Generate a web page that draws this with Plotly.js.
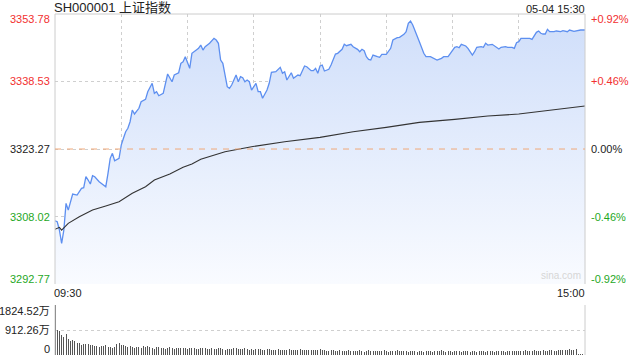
<!DOCTYPE html>
<html>
<head>
<meta charset="utf-8">
<script src="https://cdn.plot.ly/plotly-3.0.1.min.js"></script>
<style>html,body{margin:0;padding:0;background:#fff;}#chart{width:640px;height:360px;}</style>
</head>
<body>
<div id="chart"></div>
<script>
// ---- data ----
const chartTitle = 'SH000001 上证指数';
const stamp = '05-04 15:30';
const timeLabels = ['09:30', '15:00'];

// minute index from 09:30 (0) to 15:00 (240), price
const priceMin = [0,1,2,3,4,5,6,7,8,10,11,12,13,14,15,16,17,18,20,21,23,24,25,26,27,29,30,31,32,33,34,35,36,38,39,41,42,44,45,46,47,49,51,53,54,56,57,58,59,61,62,64,65,66,67,68,70,72,73,74,75,76,77,78,79,80,82,83,84,85,86,87,88,89,91,92,93,94,96,97,98,100,102,103,104,105,107,108,110,111,113,114,116,117,118,119,120,121,122,124,125,127,128,130,131,132,134,135,137,138,139,140,141,142,143,144,146,147,148,149,150,152,153,155,156,158,159,160,161,162,164,165,167,168,170,171,173,175,176,178,179,181,182,183,184,186,187,189,190,191,193,194,195,196,198,199,201,202,204,205,207,208,209,210,211,213,215,216,217,218,219,220,221,222,223,224,226,227,229,230,232,233,235,236,238,240];
const priceVal = [3307.07,3306.84,3304.96,3301.96,3304.96,3311.00,3309.48,3311.36,3313.10,3312.87,3313.62,3314.39,3314.52,3317.01,3316.26,3315.36,3317.24,3317.01,3315.88,3315.52,3314.75,3317.78,3321.17,3322.30,3320.63,3321.17,3324.17,3325.69,3327.18,3327.95,3329.44,3332.08,3331.18,3332.47,3333.96,3334.50,3336.22,3338.12,3335.86,3336.22,3335.32,3335.86,3340.22,3338.48,3339.99,3340.51,3342.64,3343.00,3344.13,3341.51,3344.90,3345.64,3346.03,3346.77,3345.64,3346.39,3347.16,3348.29,3347.90,3347.16,3343.38,3342.64,3339.61,3337.35,3336.99,3337.73,3339.99,3338.48,3339.61,3339.38,3338.48,3338.86,3338.48,3336.60,3338.12,3336.22,3336.22,3334.73,3336.60,3338.12,3340.60,3340.74,3341.73,3340.38,3340.74,3338.86,3340.51,3339.25,3339.99,3339.84,3342.03,3341.87,3340.97,3340.97,3341.51,3340.38,3342.03,3342.25,3340.90,3341.28,3342.25,3344.74,3344.90,3345.80,3346.93,3346.62,3346.93,3346.39,3345.80,3345.26,3345.80,3345.49,3344.13,3343.54,3343.38,3344.51,3344.13,3343.99,3344.67,3344.67,3344.67,3346.03,3347.90,3348.42,3348.51,3349.19,3349.78,3351.68,3352.20,3351.29,3349.03,3347.52,3344.90,3344.13,3344.13,3343.90,3343.38,3343.77,3344.13,3344.13,3344.90,3346.25,3346.39,3346.16,3346.93,3346.55,3346.03,3344.51,3345.26,3346.25,3346.39,3346.25,3347.16,3346.77,3346.93,3346.55,3345.87,3346.25,3346.39,3346.25,3346.25,3346.03,3347.29,3347.52,3348.29,3348.29,3348.29,3348.06,3349.03,3349.64,3349.94,3349.42,3349.26,3349.26,3350.32,3349.78,3349.78,3349.94,3349.78,3350.01,3349.78,3350.16,3349.87,3350.01,3350.16,3350.16];

// average price line
const avgMin = [0,2,3,6,11,17,23,29,35,41,45,52,58,62,66,77,89,104,120,135,150,165,181,196,210,227,240];
const avgVal = [3305.12,3305.57,3304.96,3306.48,3307.97,3309.48,3310.39,3311.36,3313.26,3314.75,3316.26,3317.62,3319.13,3319.88,3320.94,3322.66,3323.79,3324.92,3325.91,3327.18,3328.17,3329.30,3329.98,3330.73,3331.18,3332.24,3332.99];

// volume per minute, in 万
const volume = [
1810,930,860,730,660,770,590,520,540,500,
430,420,380,400,395,385,370,360,330,340,
310,320,330,360,300,290,260,275,390,420,
370,350,340,300,320,310,270,290,300,265,
340,305,320,275,260,235,280,300,255,240,
225,260,290,250,230,245,260,270,250,240,
210,250,240,255,230,230,250,270,250,235,
220,240,230,225,240,260,210,200,215,230,
225,240,250,215,205,230,245,220,200,210,
195,220,235,210,200,190,215,205,195,180,
200,215,190,185,175,200,210,190,180,170,
195,205,185,175,190,180,170,165,185,195,
230,
170,185,160,150,175,165,140,155,170,150,
135,160,175,150,140,130,155,165,140,125,
150,170,145,135,160,150,130,145,165,140,
125,150,140,160,175,145,130,150,140,120,
145,160,135,125,150,140,120,135,155,130,
120,140,130,150,165,140,125,135,145,120,
130,150,140,125,140,155,130,120,145,135,
125,140,150,130,120,135,150,140,125,130,
145,160,135,125,150,140,130,145,160,140,
135,150,165,145,130,155,170,150,140,160,
175,155,145,165,180,160,150,170,185,165,
175,195,210,185,200,225,30,20,25,420];

const priceTicks = [3353.78, 3338.53, 3323.27, 3308.02, 3292.77];
const pctTicks = ['+0.92%', '+0.46%', '0.00%', '-0.46%', '-0.92%'];
const volTicks = [1824.52, 912.26, 0];
const volTickLabels = ['1824.52万', '912.26万', '0'];
const gridMinutes = [30, 60, 90, 120, 150, 180, 210];

// ---- chart ----
const volMinute = volume.map((v, i) => i);
const red = '#f23030', green = '#1fa81f', dark = '#222222';
const tickColor = [red, red, dark, green, green];
const labelShift = [-5, 0, 0, 0, 5];
const font = 'Liberation Sans, Arial, Noto Sans CJK SC, sans-serif';

const traces = [
  {
    x: priceMin, y: priceVal, type: 'scatter', mode: 'lines',
    line: {color: '#5d8ff0', width: 1.3},
    fill: 'tozeroy',
    fillgradient: {type: 'vertical', start: priceTicks[4], stop: priceTicks[0],
      colorscale: [[0, '#f9fbff'], [1, '#cfdefa']]},
    xaxis: 'x', yaxis: 'y', hoverinfo: 'skip'
  },
  {
    x: avgMin, y: avgVal, type: 'scatter', mode: 'lines',
    line: {color: '#333333', width: 1.1},
    xaxis: 'x', yaxis: 'y', hoverinfo: 'skip'
  },
  {
    x: volMinute, y: volume, type: 'bar', width: 0.45,
    marker: {color: '#555555', line: {width: 0}},
    xaxis: 'x2', yaxis: 'y2', hoverinfo: 'skip'
  }
];

const annotations = [];
priceTicks.forEach((v, k) => {
  annotations.push({xref: 'paper', yref: 'y', x: 0, y: v, xanchor: 'right', yanchor: 'middle',
    xshift: -3, yshift: labelShift[k], text: v.toFixed(2), showarrow: false,
    font: {family: font, size: 11, color: tickColor[k]}});
  annotations.push({xref: 'paper', yref: 'y', x: 1, y: v, xanchor: 'left', yanchor: 'middle',
    xshift: 4, yshift: labelShift[k], text: pctTicks[k], showarrow: false,
    font: {family: font, size: 11, color: tickColor[k]}});
});
volTicks.forEach((v, k) => {
  annotations.push({xref: 'paper', yref: 'y2', x: 0, y: v, xanchor: 'right', yanchor: 'middle',
    xshift: -3, yshift: k === 0 ? -6 : (k === 2 ? 6 : 0), text: volTickLabels[k], showarrow: false,
    font: {family: font, size: 11, color: dark}});
});
annotations.push({xref: 'paper', yref: 'paper', x: 0, y: 1, xanchor: 'left', yanchor: 'bottom',
  xshift: -3, yshift: -3, text: chartTitle, showarrow: false, font: {family: font, size: 13, color: dark}});
annotations.push({xref: 'paper', yref: 'paper', x: 1, y: 1, xanchor: 'right', yanchor: 'bottom',
  xshift: 2, yshift: -3, text: stamp, showarrow: false, font: {family: font, size: 11, color: dark}});
annotations.push({xref: 'x', yref: 'y', x: 0, y: priceTicks[4], xanchor: 'left', yanchor: 'top',
  xshift: -3, yshift: -1, text: timeLabels[0], showarrow: false, font: {family: font, size: 11, color: dark}});
annotations.push({xref: 'x', yref: 'y', x: 240, y: priceTicks[4], xanchor: 'right', yanchor: 'top',
  xshift: 2, yshift: -1, text: timeLabels[1], showarrow: false, font: {family: font, size: 11, color: dark}});
annotations.push({xref: 'paper', yref: 'y', x: 1, y: priceTicks[4], xanchor: 'right', yanchor: 'bottom',
  xshift: -2, yshift: 1, text: 'sina.com', showarrow: false, font: {family: font, size: 10, color: '#d6d6d6'}});

const border = '#cccccc';
const shapes = [
  {type: 'line', xref: 'paper', yref: 'y domain', x0: 0, x1: 0, y0: 0, y1: 1, line: {color: border, width: 1}},
  {type: 'line', xref: 'paper', yref: 'y domain', x0: 1, x1: 1, y0: 0, y1: 1, line: {color: border, width: 1}},
  {type: 'line', xref: 'paper', yref: 'y domain', x0: 0, x1: 1, y0: 1, y1: 1, line: {color: border, width: 1}},
  {type: 'line', xref: 'paper', yref: 'y', x0: 0, x1: 1, y0: priceTicks[2], y1: priceTicks[2],
    line: {color: '#f0a878', width: 1, dash: '6px,6px'}},
  {type: 'line', xref: 'paper', yref: 'y2 domain', x0: 0, x1: 0, y0: 0, y1: 1, line: {color: border, width: 1}},
  {type: 'line', xref: 'paper', yref: 'y2 domain', x0: 1, x1: 1, y0: 0, y1: 1, line: {color: border, width: 1}}
];

const layout = {
  width: 640, height: 360,
  margin: {l: 55, r: 55, t: 14, b: 5},
  paper_bgcolor: '#ffffff', plot_bgcolor: 'rgba(0,0,0,0)',
  showlegend: false, bargap: 0,
  font: {family: font, size: 11, color: dark},
  xaxis: {domain: [0, 1], range: [0, 240], tickvals: gridMinutes, showticklabels: false,
    showgrid: true, gridcolor: '#cfcfcf', griddash: 'dot', gridwidth: 1, zeroline: false,
    showline: false, ticks: '', anchor: 'y', fixedrange: true},
  yaxis: {domain: [0.2082, 1], range: [priceTicks[4], priceTicks[0]], tickvals: [priceTicks[1], priceTicks[2], priceTicks[3]],
    showticklabels: false, showgrid: true, gridcolor: '#cfcfcf', griddash: 'dot', gridwidth: 1,
    zeroline: false, showline: false, ticks: '', anchor: 'x', fixedrange: true},
  xaxis2: {domain: [0, 1], range: [0, 240], showticklabels: false, showgrid: false, zeroline: false,
    showline: false, ticks: '', anchor: 'y2', fixedrange: true},
  yaxis2: {domain: [0, 0.1466], range: [0, volTicks[0]], tickvals: [volTicks[0], volTicks[1]],
    showticklabels: false, showgrid: true, gridcolor: '#cfcfcf', griddash: 'dot', gridwidth: 1,
    zeroline: false, showline: false, ticks: '', anchor: 'x2', fixedrange: true},
  annotations: annotations,
  shapes: shapes
};

Plotly.newPlot('chart', traces, layout, {displayModeBar: false, staticPlot: true});
</script>
</body>
</html>
